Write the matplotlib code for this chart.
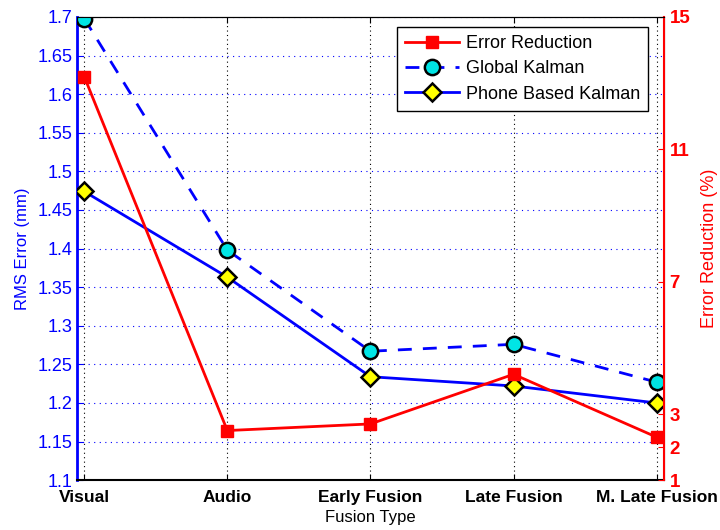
import matplotlib
matplotlib.use("Agg")
import matplotlib.pyplot as plt

plt.rcParams['font.family'] = ['Liberation Sans', 'DejaVu Sans']

# data
categories = ['Visual', 'Audio', 'Early Fusion', 'Late Fusion', 'M. Late Fusion']
global_kalman = [1.698, 1.398, 1.267, 1.276, 1.227]
phone_kalman = [1.474, 1.363, 1.234, 1.222, 1.200]
error_reduction = [13.2, 2.5, 2.7, 4.2, 2.3]

left_ticks = [1.1, 1.15, 1.2, 1.25, 1.3, 1.35, 1.4, 1.45, 1.5, 1.55, 1.6, 1.65, 1.7]
right_ticks = [1, 2, 3, 7, 11, 15]

x = list(range(len(categories)))

fig = plt.figure(figsize=(7.2, 5.3), dpi=100)
ax = fig.add_axes([0.107, 0.094, 0.815, 0.874])
ax2 = ax.twinx()

# left axis lines
l2, = ax.plot(x, global_kalman, '--', color='blue', lw=2, marker='o', ms=11,
              mfc='#00e5e5', mec='black', mew=1.8, dashes=(5, 4), label='Global Kalman', zorder=4)
l3, = ax.plot(x, phone_kalman, '-', color='blue', lw=2, marker='D', ms=9,
              mfc='yellow', mec='black', mew=1.8, label='Phone Based Kalman', zorder=4)

# right axis line
l1, = ax2.plot(x, error_reduction, '-', color='red', lw=2, marker='s', ms=8,
               mfc='red', mec='red', label='Error Reduction', zorder=3)

ax.set_xlim(-0.05, 4.05)
ax.set_ylim(1.1, 1.7)
ax2.set_ylim(1, 15)

ax.set_xticks(x)
ax.set_xticklabels(categories, fontsize=12.5, fontweight='bold')
ax.set_yticks(left_ticks)
ax.set_yticklabels(['%g' % v for v in left_ticks], fontsize=13, color='blue')
ax2.set_yticks(right_ticks)
ax2.set_yticklabels([str(v) for v in right_ticks], fontsize=13.5, color='red', fontweight='bold')

ax.tick_params(axis='y', direction='in', colors='blue', length=4, right=False, pad=3)
ax.tick_params(axis='x', direction='in', top=True, length=4, pad=7)
ax2.tick_params(axis='y', direction='in', colors='red', length=4, pad=4)

# grid like matlab
ax.yaxis.grid(True, linestyle=(0, (1, 4)), color='blue', lw=0.8)
ax.xaxis.grid(True, linestyle=(0, (1, 3)), color='black', lw=0.8)

ax.spines['left'].set_color('blue')
ax.spines['left'].set_linewidth(2)
ax.spines['bottom'].set_linewidth(1.5)
ax2.spines['left'].set_visible(False)
ax2.spines['bottom'].set_visible(False)
ax2.spines['right'].set_color('red')
ax2.spines['right'].set_linewidth(1.5)

ax.set_ylabel('RMS Error (mm)', color='blue', fontsize=12, labelpad=6)
ax2.set_ylabel('Error Reduction (%)', color='red', fontsize=13, labelpad=8)
ax.set_xlabel('Fusion Type', fontsize=12, labelpad=4)

leg = ax2.legend(handles=[l1, l2, l3], loc='upper right', bbox_to_anchor=(0.973, 0.978),
                 borderaxespad=0, fontsize=13, fancybox=False, edgecolor='black',
                 framealpha=1, handlelength=3.0, handletextpad=0.35,
                 borderpad=0.45, labelspacing=0.45)
leg.get_frame().set_linewidth(1)

fig.savefig('out.png', dpi=100)
